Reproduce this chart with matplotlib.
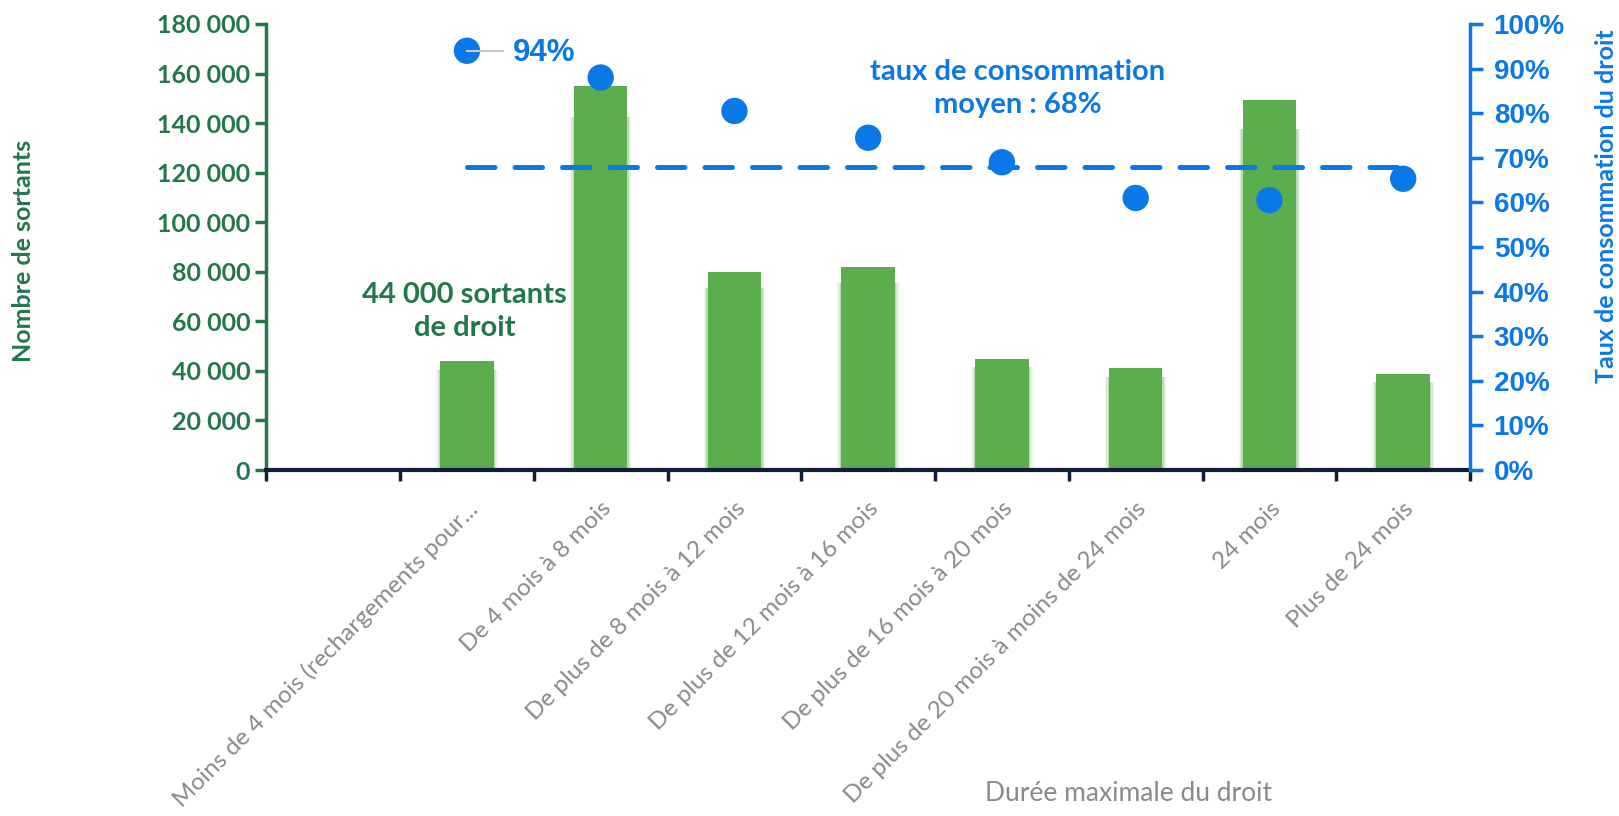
import numpy as np
import matplotlib
matplotlib.use("Agg")
import matplotlib.pyplot as plt
from matplotlib.ticker import FixedLocator, FuncFormatter

plt.rcParams['font.family'] = ['Lato', 'DejaVu Sans']

categories = ["Moins de 4 mois (rechargements pour...",
              "De 4 mois à 8 mois",
              "De plus de 8 mois à 12 mois",
              "De plus de 12 mois à 16 mois",
              "De plus de 16 mois à 20 mois",
              "De plus de 20 mois à moins de 24 mois",
              "24 mois",
              "Plus de 24 mois"]
sortants = [44000, 155000, 80000, 82000, 45000, 41000, 149500, 38700]
taux = [0.94, 0.88, 0.805, 0.745, 0.69, 0.61, 0.605, 0.653]
taux_moyen = 0.68

green_bar = "#5BAD4E"
green_txt = "#23774A"
blue = "#0A78E6"
navy = "#0F1E36"
grey = "#8A8A8A"
arial = ['Liberation Sans', 'DejaVu Sans']

fig = plt.figure(figsize=(16.19, 8.16), dpi=100)
ax = fig.add_axes([0.1645, 0.424, 0.7435, 0.5466])
ax2 = ax.twinx()

x = np.arange(len(categories))
# soft glow around the bars
for w, a in [(0.46, 0.10), (0.44, 0.15), (0.42, 0.25)]:
    ax.bar(x, np.array(sortants) * 0.92, width=w, color=green_bar, alpha=a, zorder=1,
           linewidth=0)
ax.bar(x, sortants, width=0.4, color=green_bar, zorder=2, linewidth=0)
ax.set_xlim(-1.5, len(categories) - 0.5)
ax.set_ylim(0, 180000)
ax.set_yticks(np.arange(0, 180001, 20000))
ax.yaxis.set_major_formatter(FuncFormatter(lambda v, p: f"{int(v):,}".replace(",", " ")))

ax2.set_ylim(0, 1)
ax2.set_yticks(np.arange(0, 1.01, 0.1))
ax2.yaxis.set_major_formatter(FuncFormatter(lambda v, p: f"{v*100:.0f}%"))

ax2.plot([x[0], x[-1]], [taux_moyen, taux_moyen], color=blue, lw=3.6,
         ls=(0, (5.5, 4)), dash_capstyle='round', zorder=3)
ax2.scatter(x, taux, s=360, color=blue, zorder=4, edgecolors='none')

# x axis: ticks at boundaries, labels at bar centers
ax.set_xticks(x)
ax.set_xticklabels(categories, rotation=45, ha='right', va='top',
                   rotation_mode='anchor', fontsize=17.5, color=grey)
ax.tick_params(axis='x', which='major', length=0, pad=20)
ax.xaxis.set_minor_locator(FixedLocator(np.arange(-1.5, len(categories), 1.0)))
ax.tick_params(axis='x', which='minor', length=8, width=2.5, color=navy)

ax.tick_params(axis='y', colors=green_txt, labelsize=18, length=8, width=2.5)
for t in ax.get_yticklabels():
    t.set_fontweight('bold')
ax2.tick_params(axis='y', colors=blue, labelsize=20, length=9, width=2.5, pad=8)
for t in ax2.get_yticklabels():
    t.set_fontweight('bold')
    t.set_family(arial)

for a in (ax, ax2):
    a.spines['top'].set_visible(False)
ax.spines['left'].set_color(green_txt)
ax.spines['left'].set_linewidth(2.5)
ax.spines['right'].set_visible(False)
ax.spines['bottom'].set_color(navy)
ax.spines['bottom'].set_linewidth(3)
ax2.spines['left'].set_visible(False)
ax2.spines['bottom'].set_visible(False)
ax2.spines['right'].set_color(blue)
ax2.spines['right'].set_linewidth(2.5)

# annotations
ax2.plot([x[0], x[0] + 0.27], [taux[0], taux[0]], color="#C8C8C8", lw=1.5, zorder=5)
ax2.text(x[0] + 0.34, taux[0] - 0.005, "94%", color=blue, fontsize=22.5, fontweight='bold',
         ha='left', va='center', family=arial)
ax2.text(4.12, 0.855, "taux de consommation\nmoyen : 68%", color=blue, fontsize=21,
         fontweight='bold', ha='center', va='center', linespacing=1.35)
ax.text(x[0] - 0.02, 64000, "44 000 sortants\nde droit", color=green_txt, fontsize=21,
        fontweight='bold', ha='center', va='center', linespacing=1.35)

fig.text(0.0145, 0.693, "Nombre de sortants", rotation=90, color=green_txt,
         fontsize=18, fontweight='bold', ha='center', va='center')
fig.text(0.9925, 0.748, "Taux de consommation du droit", rotation=90, color=blue,
         fontsize=18, fontweight='bold', ha='center', va='center')
fig.text(0.697, 0.028, "Durée maximale du droit", color=grey, fontsize=19,
         ha='center', va='center')

fig.savefig("out.png", dpi=100)
